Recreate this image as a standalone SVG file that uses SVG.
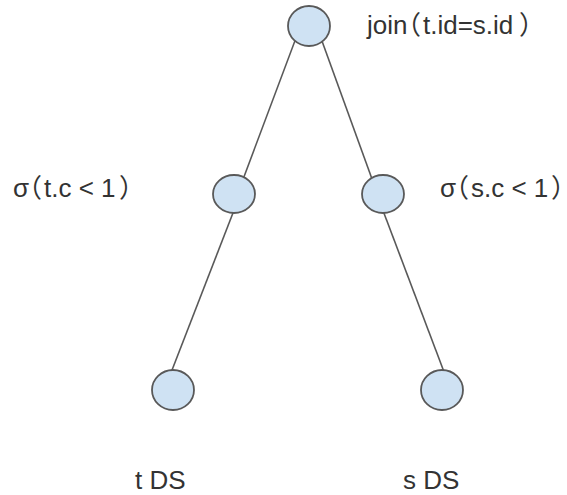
<svg xmlns="http://www.w3.org/2000/svg" width="567" height="495" viewBox="0 0 567 495">
<style>
.edge{stroke:#595959;stroke-width:1.6;fill:none}
.node{fill:#cfe2f3;stroke:#595959;stroke-width:1.8}
.lbl{font-family:"Liberation Sans","Noto Sans CJK SC",Arial,sans-serif;font-size:26px;fill:#333333}
</style>
<rect width="567" height="495" fill="#ffffff"/>
<g id="connectors">
<line class="edge" x1="299" y1="30" x2="239" y2="190"/>
<line class="edge" x1="318" y1="30" x2="376" y2="190"/>
<line class="edge" x1="238" y1="200" x2="167" y2="383"/>
<line class="edge" x1="379" y1="200" x2="449" y2="385"/>
</g>
<g id="join">
<ellipse class="node" cx="309" cy="26" rx="21" ry="20"/>
<text class="lbl" y="34"><tspan x="367">join</tspan><tspan x="395">（</tspan><tspan x="423">t.id=s.id</tspan><tspan x="519">）</tspan></text>
</g>
<g id="sigma-t">
<ellipse class="node" cx="234" cy="194" rx="21" ry="19"/>
<text class="lbl" y="197"><tspan x="13">σ</tspan><tspan x="16">（</tspan><tspan x="44">t.c &lt; 1</tspan><tspan x="119">）</tspan></text>
</g>
<g id="sigma-s">
<ellipse class="node" cx="383" cy="194" rx="21" ry="19"/>
<text class="lbl" y="197"><tspan x="440">σ</tspan><tspan x="443">（</tspan><tspan x="471">s.c &lt; 1</tspan><tspan x="551">）</tspan></text>
</g>
<g id="t-ds">
<ellipse class="node" cx="173" cy="390" rx="21" ry="20"/>
<text class="lbl" x="135" y="489">t DS</text>
</g>
<g id="s-ds">
<ellipse class="node" cx="442" cy="390" rx="21" ry="20"/>
<text class="lbl" x="403" y="489">s DS</text>
</g>
</svg>
